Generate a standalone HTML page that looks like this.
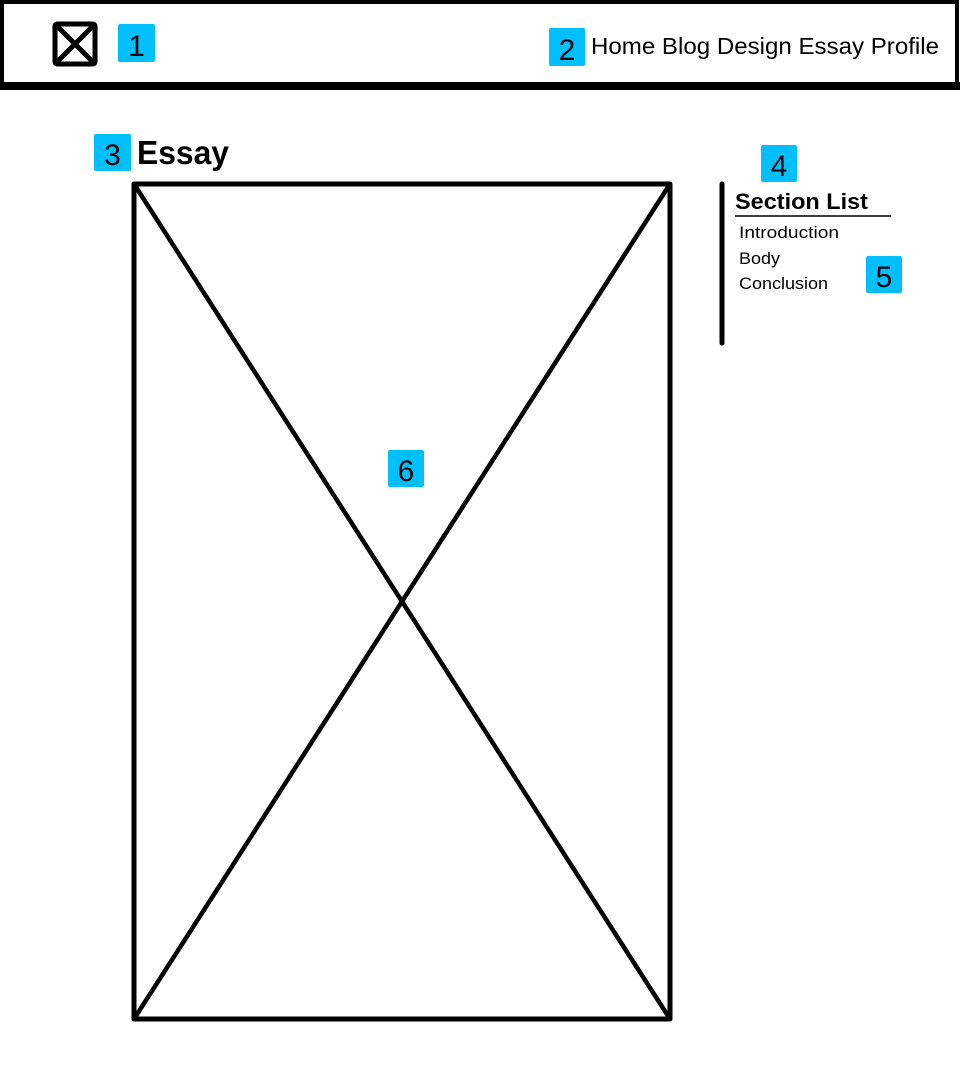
<!DOCTYPE html>
<html><head><meta charset="utf-8"><style>
html,body{margin:0;padding:0;background:#fff;width:960px;height:1080px;overflow:hidden}
svg{display:block;font-family:"Liberation Sans",sans-serif}
</style></head><body>
<svg width="960" height="1080" viewBox="0 0 960 1080">
<g>
<rect x="2" y="2" width="955" height="83" fill="none" stroke="#000" stroke-width="4"/>
<rect x="0" y="82" width="960" height="8" fill="#000"/>
<g>
<rect x="55" y="24" width="40" height="40" fill="#fff" stroke="#000" stroke-width="5" rx="2"/>
<path d="M57 26 L93 62 M93 26 L57 62" stroke="#000" stroke-width="5"/>
</g>
<rect x="118" y="24" width="37" height="38" rx="2" fill="#00bfff"/>
<text x="136.5" y="56" font-size="30" text-anchor="middle">1</text>
<rect x="549" y="28" width="36" height="38" rx="2" fill="#00bfff"/>
<text x="567" y="60" font-size="30" text-anchor="middle">2</text>
<text x="591" y="54" font-size="23" textLength="348" lengthAdjust="spacingAndGlyphs">Home Blog Design Essay Profile</text>
</g>
<rect x="94" y="134" width="37" height="37" rx="2" fill="#00bfff"/>
<text x="112.5" y="165" font-size="30" text-anchor="middle">3</text>
<text x="137" y="164" font-size="33" font-weight="bold" textLength="92" lengthAdjust="spacingAndGlyphs">Essay</text>
<g>
<rect x="134" y="184" width="536" height="835" fill="none" stroke="#000" stroke-width="5" stroke-linejoin="round"/>
<path d="M134 184 L670 1019 M670 184 L134 1019" stroke="#000" stroke-width="4.5"/>
</g>
<rect x="388" y="450" width="36" height="37" rx="2" fill="#00bfff"/>
<text x="406" y="481" font-size="30" text-anchor="middle">6</text>
<line x1="722" y1="184" x2="722" y2="343" stroke="#000" stroke-width="5" stroke-linecap="round"/>
<rect x="761" y="145" width="36" height="37" rx="2" fill="#00bfff"/>
<text x="779" y="176" font-size="30" text-anchor="middle">4</text>
<text x="735" y="209" font-size="22" font-weight="bold" textLength="133" lengthAdjust="spacingAndGlyphs">Section List</text>
<line x1="735" y1="216" x2="891" y2="216" stroke="#000" stroke-width="1.5"/>
<text x="739" y="238" font-size="17" textLength="100" lengthAdjust="spacingAndGlyphs">Introduction</text>
<text x="739" y="264" font-size="17" textLength="41" lengthAdjust="spacingAndGlyphs">Body</text>
<text x="739" y="289" font-size="17" textLength="89" lengthAdjust="spacingAndGlyphs">Conclusion</text>
<rect x="866" y="256" width="36" height="37" rx="2" fill="#00bfff"/>
<text x="884" y="287" font-size="30" text-anchor="middle">5</text>
</svg>
</body></html>
